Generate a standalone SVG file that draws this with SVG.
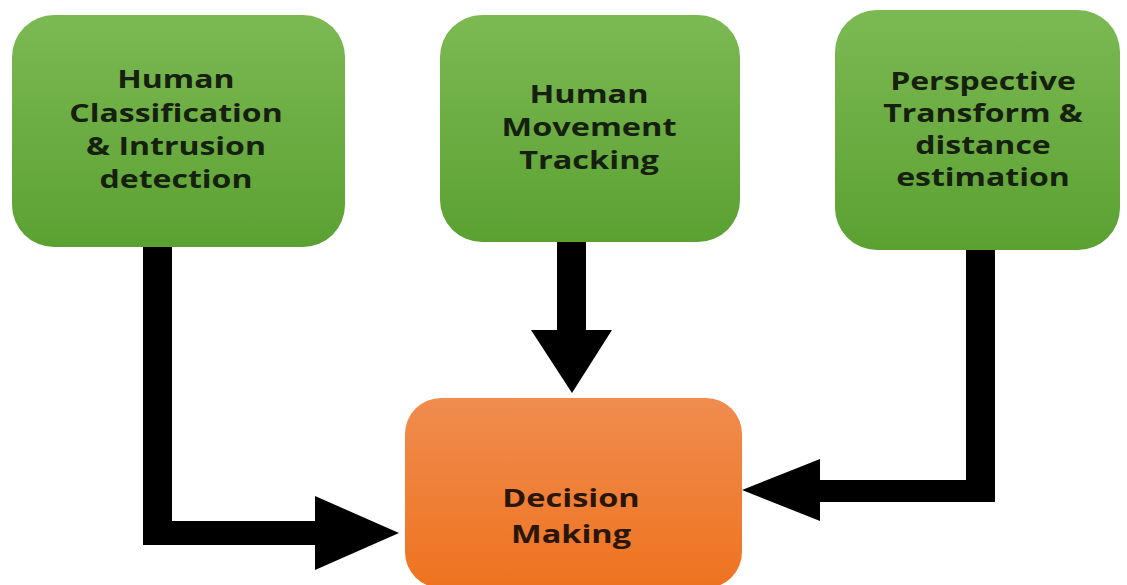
<svg xmlns="http://www.w3.org/2000/svg" width="1127" height="585" viewBox="0 0 1127 585">
<defs>
<linearGradient id="gGreen" x1="0" y1="0" x2="0" y2="1">
<stop offset="0" stop-color="#7cb953"/>
<stop offset="1" stop-color="#5ba132"/>
</linearGradient>
<linearGradient id="gOrange" x1="0" y1="0" x2="0" y2="1">
<stop offset="0" stop-color="#f08c4f"/>
<stop offset="1" stop-color="#ee731f"/>
</linearGradient>
<style>
.lbl{font-family:"Open Sans","Liberation Sans",sans-serif;font-weight:bold;font-size:25px;fill:#16200f;text-anchor:middle}
.lblo{fill:#2a1608}
.conn{fill:#000000}
</style>
</defs>
<rect width="1127" height="585" fill="#ffffff"/>
<g id="connectors">
<path class="conn" d="M143,246 H172 V521 H315 V496 L399,533 L315,570 V545 H143 Z"/>
<path class="conn" d="M557,241 H586 V330 H612 L572,393 L531,330 H557 Z"/>
<path class="conn" d="M966,249 H995 V502 H820 V521 L742,490 L820,459 V480 H966 Z"/>
</g>
<g id="node-classification">
<rect x="12" y="15" width="333" height="232" rx="42" ry="42" fill="url(#gGreen)"/>
<g transform="translate(176,0) scale(1.28,1)">
<text class="lbl" x="0" y="88">Human</text>
<text class="lbl" x="0" y="122">Classification</text>
<text class="lbl" x="0" y="155">&amp; Intrusion</text>
<text class="lbl" x="0" y="188">detection</text>
</g>
</g>
<g id="node-tracking">
<rect x="440" y="15" width="300" height="227" rx="42" ry="42" fill="url(#gGreen)"/>
<g transform="translate(589,0) scale(1.3,1)">
<text class="lbl" x="0" y="103">Human</text>
<text class="lbl" x="0" y="136">Movement</text>
<text class="lbl" x="0" y="169">Tracking</text>
</g>
</g>
<g id="node-perspective">
<rect x="835" y="10" width="285" height="240" rx="42" ry="42" fill="url(#gGreen)"/>
<g transform="translate(983,0) scale(1.28,1)">
<text class="lbl" x="0" y="90">Perspective</text>
<text class="lbl" x="0" y="122">Transform &amp;</text>
<text class="lbl" x="0" y="154">distance</text>
<text class="lbl" x="0" y="186">estimation</text>
</g>
</g>
<g id="node-decision">
<rect x="405" y="398" width="337" height="190" rx="36" ry="36" fill="url(#gOrange)"/>
<g transform="translate(571,0) scale(1.3,1)">
<text class="lbl lblo" x="0" y="507">Decision</text>
<text class="lbl lblo" x="0" y="543">Making</text>
</g>
</g>
</svg>
